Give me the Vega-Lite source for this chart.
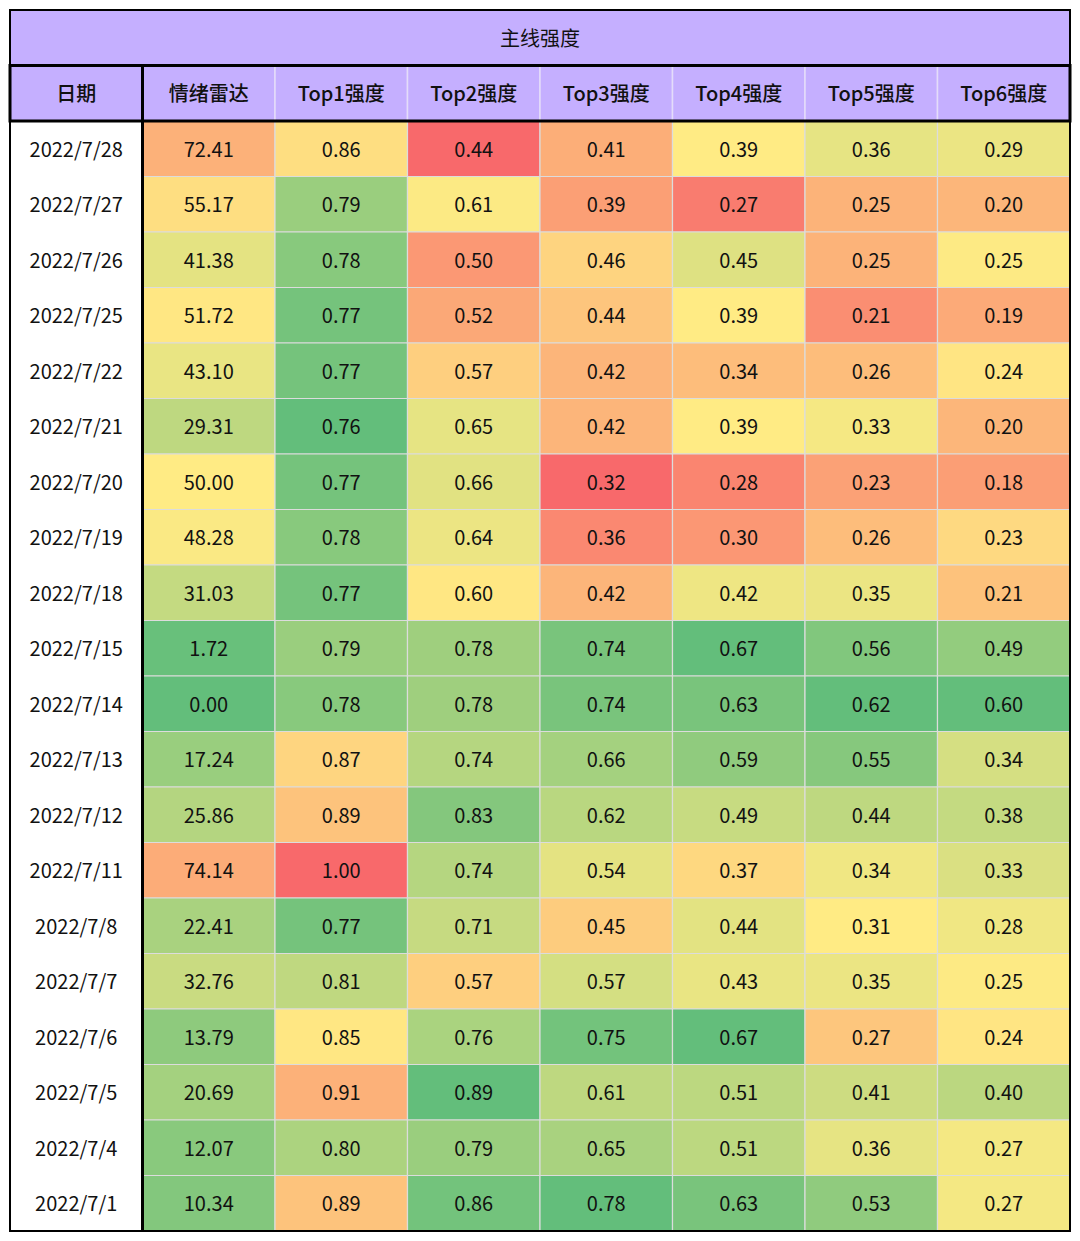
{
  "$schema": "https://vega.github.io/schema/vega-lite/v6.json",
  "width": 1060,
  "height": 1221,
  "padding": 10,
  "autosize": {"type": "none"},
  "background": "white",
  "config": {"view": {"stroke": null}, "text": {"font": "Noto Sans CJK SC"}},
  "datasets": {
    "table": [
      {"date": "2022/7/28", "emo": 72.41, "t1": 0.86, "t2": 0.44, "t3": 0.41, "t4": 0.39, "t5": 0.36, "t6": 0.29},
      {"date": "2022/7/27", "emo": 55.17, "t1": 0.79, "t2": 0.61, "t3": 0.39, "t4": 0.27, "t5": 0.25, "t6": 0.20},
      {"date": "2022/7/26", "emo": 41.38, "t1": 0.78, "t2": 0.50, "t3": 0.46, "t4": 0.45, "t5": 0.25, "t6": 0.25},
      {"date": "2022/7/25", "emo": 51.72, "t1": 0.77, "t2": 0.52, "t3": 0.44, "t4": 0.39, "t5": 0.21, "t6": 0.19},
      {"date": "2022/7/22", "emo": 43.10, "t1": 0.77, "t2": 0.57, "t3": 0.42, "t4": 0.34, "t5": 0.26, "t6": 0.24},
      {"date": "2022/7/21", "emo": 29.31, "t1": 0.76, "t2": 0.65, "t3": 0.42, "t4": 0.39, "t5": 0.33, "t6": 0.20},
      {"date": "2022/7/20", "emo": 50.00, "t1": 0.77, "t2": 0.66, "t3": 0.32, "t4": 0.28, "t5": 0.23, "t6": 0.18},
      {"date": "2022/7/19", "emo": 48.28, "t1": 0.78, "t2": 0.64, "t3": 0.36, "t4": 0.30, "t5": 0.26, "t6": 0.23},
      {"date": "2022/7/18", "emo": 31.03, "t1": 0.77, "t2": 0.60, "t3": 0.42, "t4": 0.42, "t5": 0.35, "t6": 0.21},
      {"date": "2022/7/15", "emo": 1.72, "t1": 0.79, "t2": 0.78, "t3": 0.74, "t4": 0.67, "t5": 0.56, "t6": 0.49},
      {"date": "2022/7/14", "emo": 0.00, "t1": 0.78, "t2": 0.78, "t3": 0.74, "t4": 0.63, "t5": 0.62, "t6": 0.60},
      {"date": "2022/7/13", "emo": 17.24, "t1": 0.87, "t2": 0.74, "t3": 0.66, "t4": 0.59, "t5": 0.55, "t6": 0.34},
      {"date": "2022/7/12", "emo": 25.86, "t1": 0.89, "t2": 0.83, "t3": 0.62, "t4": 0.49, "t5": 0.44, "t6": 0.38},
      {"date": "2022/7/11", "emo": 74.14, "t1": 1.00, "t2": 0.74, "t3": 0.54, "t4": 0.37, "t5": 0.34, "t6": 0.33},
      {"date": "2022/7/8", "emo": 22.41, "t1": 0.77, "t2": 0.71, "t3": 0.45, "t4": 0.44, "t5": 0.31, "t6": 0.28},
      {"date": "2022/7/7", "emo": 32.76, "t1": 0.81, "t2": 0.57, "t3": 0.57, "t4": 0.43, "t5": 0.35, "t6": 0.25},
      {"date": "2022/7/6", "emo": 13.79, "t1": 0.85, "t2": 0.76, "t3": 0.75, "t4": 0.67, "t5": 0.27, "t6": 0.24},
      {"date": "2022/7/5", "emo": 20.69, "t1": 0.91, "t2": 0.89, "t3": 0.61, "t4": 0.51, "t5": 0.41, "t6": 0.40},
      {"date": "2022/7/4", "emo": 12.07, "t1": 0.80, "t2": 0.79, "t3": 0.65, "t4": 0.51, "t5": 0.36, "t6": 0.27},
      {"date": "2022/7/1", "emo": 10.34, "t1": 0.89, "t2": 0.86, "t3": 0.78, "t4": 0.63, "t5": 0.53, "t6": 0.27}
    ],
    "heads": [
      {"h": "日期"}, {"h": "情绪雷达"}, {"h": "Top1强度"}, {"h": "Top2强度"}, {"h": "Top3强度"}, {"h": "Top4强度"}, {"h": "Top5强度"}, {"h": "Top6强度"}
    ]
  },
  "data": {"name": "table"},
  "encoding": {
    "y": {
      "field": "date", "type": "nominal",
      "scale": {
        "domain": ["title", "header", "2022/7/28", "2022/7/27", "2022/7/26", "2022/7/25", "2022/7/22", "2022/7/21", "2022/7/20", "2022/7/19", "2022/7/18", "2022/7/15", "2022/7/14", "2022/7/13", "2022/7/12", "2022/7/11", "2022/7/8", "2022/7/7", "2022/7/6", "2022/7/5", "2022/7/4", "2022/7/1"],
        "paddingInner": 0, "paddingOuter": 0
      },
      "axis": null
    }
  },
  "layer": [
    {
      "mark": {"type": "rect", "stroke": "#DCDCDC", "strokeWidth": 1.2},
      "encoding": {
        "x": {"datum": "情绪雷达", "type": "nominal", "scale": {"domain": ["日期", "情绪雷达", "Top1强度", "Top2强度", "Top3强度", "Top4强度", "Top5强度", "Top6强度"], "paddingInner": 0, "paddingOuter": 0}, "axis": null},
        "color": {"field": "emo", "type": "quantitative", "legend": null, "scale": {"domain": [0, 50, 100], "range": ["#63BE7B", "#FFEB84", "#F8696B"], "interpolate": "rgb", "clamp": true}}
      }
    },
    {
      "mark": {"type": "rect", "stroke": "#DCDCDC", "strokeWidth": 1.2},
      "encoding": {
        "x": {"datum": "Top1强度", "type": "nominal"},
        "color": {"field": "t1", "type": "quantitative", "legend": null, "scale": {"domain": [0.76, 0.845, 0.99], "range": ["#63BE7B", "#FFEB84", "#F8696B"], "interpolate": "rgb", "clamp": true}}
      }
    },
    {
      "mark": {"type": "rect", "stroke": "#DCDCDC", "strokeWidth": 1.2},
      "encoding": {
        "x": {"datum": "Top2强度", "type": "nominal"},
        "color": {"field": "t2", "type": "quantitative", "legend": null, "scale": {"domain": [0.44, 0.605, 0.89], "range": ["#F8696B", "#FFEB84", "#63BE7B"], "interpolate": "rgb", "clamp": true}}
      }
    },
    {
      "mark": {"type": "rect", "stroke": "#DCDCDC", "strokeWidth": 1.2},
      "encoding": {
        "x": {"datum": "Top3强度", "type": "nominal"},
        "color": {"field": "t3", "type": "quantitative", "legend": null, "scale": {"domain": [0.32, 0.49, 0.78], "range": ["#F8696B", "#FFEB84", "#63BE7B"], "interpolate": "rgb", "clamp": true}}
      }
    },
    {
      "mark": {"type": "rect", "stroke": "#DCDCDC", "strokeWidth": 1.2},
      "encoding": {
        "x": {"datum": "Top4强度", "type": "nominal"},
        "color": {"field": "t4", "type": "quantitative", "legend": null, "scale": {"domain": [0.25, 0.39, 0.67], "range": ["#F8696B", "#FFEB84", "#63BE7B"], "interpolate": "rgb", "clamp": true}}
      }
    },
    {
      "mark": {"type": "rect", "stroke": "#DCDCDC", "strokeWidth": 1.2},
      "encoding": {
        "x": {"datum": "Top5强度", "type": "nominal"},
        "color": {"field": "t5", "type": "quantitative", "legend": null, "scale": {"domain": [0.17, 0.31, 0.62], "range": ["#F8696B", "#FFEB84", "#63BE7B"], "interpolate": "rgb", "clamp": true}}
      }
    },
    {
      "mark": {"type": "rect", "stroke": "#DCDCDC", "strokeWidth": 1.2},
      "encoding": {
        "x": {"datum": "Top6强度", "type": "nominal"},
        "color": {"field": "t6", "type": "quantitative", "legend": null, "scale": {"domain": [0.135, 0.245, 0.60], "range": ["#F8696B", "#FFEB84", "#63BE7B"], "interpolate": "rgb", "clamp": true}}
      }
    },
    {
      "data": {"name": "heads"},
      "mark": {"type": "rect", "fill": "#C5AFFF", "stroke": "#E4DCFA", "strokeWidth": 1.5},
      "encoding": {
        "x": {"field": "h", "type": "nominal"},
        "y": {"datum": "header", "type": "nominal"}
      }
    },
    {
      "data": {"name": "heads"},
      "mark": {"type": "text", "fontSize": 20, "fontWeight": 500, "color": "#111111", "dy": 2},
      "encoding": {
        "x": {"field": "h", "type": "nominal"},
        "y": {"datum": "header", "type": "nominal"},
        "text": {"field": "h"}
      }
    },
    {
      "mark": {"type": "text", "fontSize": 20, "color": "#111111", "dy": 2},
      "encoding": {"x": {"datum": "日期", "type": "nominal"}, "text": {"field": "date"}}
    },
    {
      "mark": {"type": "text", "fontSize": 20, "color": "#111111", "dy": 2},
      "encoding": {"x": {"datum": "情绪雷达", "type": "nominal"}, "text": {"field": "emo", "format": ".2f"}}
    },
    {
      "mark": {"type": "text", "fontSize": 20, "color": "#111111", "dy": 2},
      "encoding": {"x": {"datum": "Top1强度", "type": "nominal"}, "text": {"field": "t1", "format": ".2f"}}
    },
    {
      "mark": {"type": "text", "fontSize": 20, "color": "#111111", "dy": 2},
      "encoding": {"x": {"datum": "Top2强度", "type": "nominal"}, "text": {"field": "t2", "format": ".2f"}}
    },
    {
      "mark": {"type": "text", "fontSize": 20, "color": "#111111", "dy": 2},
      "encoding": {"x": {"datum": "Top3强度", "type": "nominal"}, "text": {"field": "t3", "format": ".2f"}}
    },
    {
      "mark": {"type": "text", "fontSize": 20, "color": "#111111", "dy": 2},
      "encoding": {"x": {"datum": "Top4强度", "type": "nominal"}, "text": {"field": "t4", "format": ".2f"}}
    },
    {
      "mark": {"type": "text", "fontSize": 20, "color": "#111111", "dy": 2},
      "encoding": {"x": {"datum": "Top5强度", "type": "nominal"}, "text": {"field": "t5", "format": ".2f"}}
    },
    {
      "mark": {"type": "text", "fontSize": 20, "color": "#111111", "dy": 2},
      "encoding": {"x": {"datum": "Top6强度", "type": "nominal"}, "text": {"field": "t6", "format": ".2f"}}
    },
    {
      "data": {"values": [{}]},
      "mark": {"type": "rule", "color": "#000000", "strokeWidth": 3},
      "encoding": {
        "x": {"datum": "情绪雷达", "type": "nominal", "bandPosition": 0},
        "y": {"value": 0},
        "y2": {"value": "height"}
      }
    },
    {
      "data": {"values": [{}]},
      "mark": {"type": "rect", "fill": "#C5AFFF"},
      "encoding": {
        "y": {"datum": "title", "type": "nominal"},
        "x": {"value": 0},
        "x2": {"value": "width"}
      }
    },
    {
      "data": {"values": [{"t": "主线强度"}]},
      "mark": {"type": "text", "fontSize": 20, "color": "#111111", "dy": 2},
      "encoding": {"y": {"datum": "title", "type": "nominal"}, "text": {"field": "t"}}
    },
    {
      "data": {"values": [{}]},
      "mark": {"type": "rect", "fillOpacity": 0, "stroke": "#000000", "strokeWidth": 3},
      "encoding": {
        "y": {"datum": "header", "type": "nominal"},
        "x": {"value": 0},
        "x2": {"value": "width"}
      }
    },
    {
      "data": {"values": [{}]},
      "mark": {"type": "rect", "fillOpacity": 0, "stroke": "#000000", "strokeWidth": 2},
      "encoding": {
        "x": {"value": 0},
        "x2": {"value": "width"},
        "y": {"value": 0},
        "y2": {"value": "height"}
      }
    }
  ],
  "resolve": {"scale": {"color": "independent"}}
}
